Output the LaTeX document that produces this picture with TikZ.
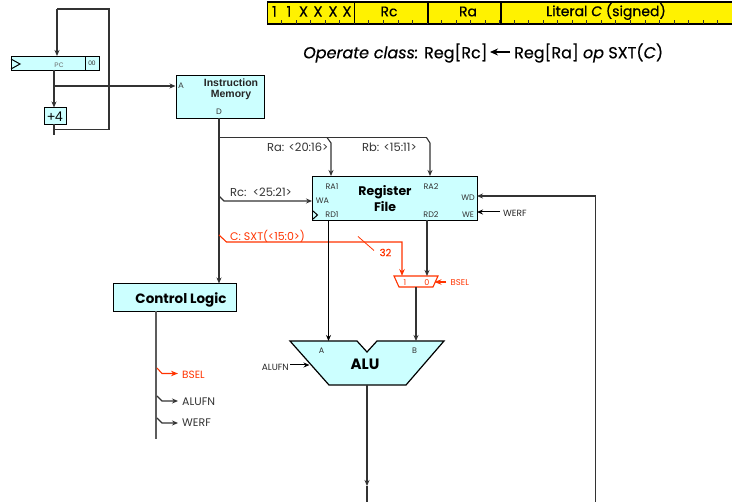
\documentclass[tikz,border=0pt]{standalone}
\usepackage{fontspec}
\setmainfont{Poppins}
\newfontfamily\handfont[FakeBold=0.5]{Poppins}
\newfontfamily\labfont{Liberation Sans}
\usetikzlibrary{arrows.meta,calc}
\definecolor{cy}{HTML}{CCFFFF}
\definecolor{rd}{HTML}{FF3300}
\definecolor{ln}{HTML}{333333}
\tikzset{
 blk/.style={draw=black,fill=cy,line width=1pt,inner sep=0pt,anchor=north west},
 wire/.style={draw=ln,line width=1.1pt},
 arr/.style={wire,-{Stealth[length=6pt,width=5pt]}},
 rwire/.style={draw=rd,line width=1.1pt},
 rarr/.style={rwire,-{Stealth[length=7pt,width=5.5pt]}},
 small/.style={font=\fontsize{8}{9}\selectfont,text=ln,inner sep=0pt},
 lab/.style={font=\fontsize{11}{12}\selectfont,text=ln,inner sep=0pt,anchor=west},
 rlab/.style={font=\fontsize{11}{12}\selectfont,text=rd,inner sep=0pt,anchor=west},
 tit/.style={font=\bfseries\fontsize{12.5}{15.5}\selectfont,inner sep=0pt,align=center},
 hand/.style={font=\handfont\fontsize{14}{15}\selectfont,inner sep=0pt},
}
\begin{document}
\begin{tikzpicture}[x=1pt,y=-1pt]
\useasboundingbox (0,0) rectangle (732,502);
% instruction format
\node[draw=black,fill=yellow,line width=1.1pt,minimum width=470pt,minimum height=22pt,inner sep=0pt,anchor=north west] (ins) at (267,1.5) {};
\foreach \i in {1,...,31}{\draw[ln,line width=0.5pt] ($(267,24)+(\i*14.53,0)$) -- ++(0,-4);}
\foreach \x in {354.5,428,501}{\draw[black,line width=1.1pt] (\x,1.5) -- (\x,23.5);}
\foreach \n/\t/\x in {b1/1/274.5,b2/1/289,b3/X/303.5,b4/X/318,b5/X/333,b6/X/347}
  \node[hand,font=\handfont\fontsize{14.5}{15}\selectfont] (\n) at (\x,11.5) {\t};
\node[hand] (rc) at (389,11.5) {Rc};
\node[hand] (ra) at (468,11.5) {Ra};
\node[hand] (lit) at (606,11.5) {Literal \textit{C} (signed)};
\node[hand,font=\handfont\fontsize{16}{18}\selectfont,anchor=west] (eq1) at (303,53) {\textit{Operate class:} Reg[Rc]};
\node[hand,font=\handfont\fontsize{16}{18}\selectfont,anchor=west] (eq2) at (514,53) {Reg[Ra] \textit{op} SXT(\textit{C})};
\coordinate (eqa) at (510,52);
\coordinate (eqb) at (490,52);
\draw[black,line width=1.6pt,-{Stealth[length=8pt,width=7pt]}] (eqa) -- (eqb);
% PC
\node[blk,minimum width=74.5pt,minimum height=14pt] (pc) at (10.5,56) {};
\node[blk,minimum width=14.5pt,minimum height=14pt] (pc0) at (84.5,56) {};
\node[small,font=\labfont\fontsize{6.5}{7}\selectfont,text=black!60] (pcl) at (59,65) {PC};
\node[small,font=\labfont\fontsize{6.5}{7}\selectfont] (pc00) at (92,63) {00};
\draw[black,line width=1pt] (11,59) -- (20,64) -- (11,69);
\node[blk,minimum width=22pt,minimum height=16.5pt,font=\labfont\fontsize{14}{15}\selectfont] (inc) at (43.5,107.5) {+4};
\coordinate (c1) at (57,9); \coordinate (c2) at (109,9); \coordinate (c3) at (109,129.5); \coordinate (c4) at (54,129.5); \coordinate (c5) at (54,135);
\coordinate (pcb) at (54,70); \coordinate (pcj) at (54,86); \coordinate (inct) at (54,107.5); \coordinate (inb) at (54,124);
\coordinate (pct) at (57,56);
\draw[wire] (inb) -- (c5);
\draw[wire] (c4) -- (c3) -- (c2) -- (c1);
\draw[arr] (c1) -- (pct);
\draw[arr] (pcb) -- (inct);
% IM
\node[blk,minimum width=88pt,minimum height=43.5pt] (im) at (175.5,75) {};
\node[small,font=\labfont\fontsize{8}{9}\selectfont] (ima) at (181,86) {A};
\node[small,font=\labfont\fontsize{8}{9}\selectfont] (imd) at (219,112) {D};
\node[font=\labfont\bfseries\fontsize{10.5}{11.5}\selectfont,align=center,inner sep=0pt,text=black!85] (imt) at (231,89.5) {Instruction\\Memory};
\coordinate (ima0) at (175.5,86);
\draw[arr] (pcj) -- (ima0);
% regfile
\node[blk,minimum width=165pt,minimum height=44pt] (rf) at (312,176) {};
\node[tit] (rft) at (385,198.5) {Register\\File};
\foreach \n/\t/\x/\y in {ra1/RA1/332/187,ra2/RA2/431/187,wa/WA/322.5/201,wd/WD/468/198,we/WE/468/215,rd1/RD1/332/215,rd2/RD2/431/215}
  \node[small] (\n) at (\x,\y) {\t};
\draw[black,line width=1pt] (313,211) -- (317.5,215) -- (313,219);
% control
\node[blk,minimum width=123pt,minimum height=27.5pt] (cl) at (112.5,283.5) {};
\node[font=\bfseries\fontsize{13.5}{15}\selectfont,inner sep=0pt] (clt) at (181,299.5) {Control Logic};
% IM output and branches
\coordinate (imb) at (219,118); \coordinate (clt0) at (219,283.5);
\draw[arr] (imb) -- (clt0);
\coordinate (j1) at (219,137.5); \coordinate (k1) at (327,137.5); \coordinate (k2) at (331,143); \coordinate (ra1t) at (331,176);
\coordinate (k3) at (426.5,137.5); \coordinate (k4) at (430,143); \coordinate (ra2t) at (430,176);
\draw[wire] (j1) -- (k1);
\draw[arr] (k1) -- (k2) -- (ra1t);
\draw[wire] (k1) -- (k3);
\draw[arr] (k3) -- (k4) -- (ra2t);
\node[lab,font=\fontsize{11.5}{12}\selectfont] (lra) at (267,147.5) {Ra: <20:16>};
\node[lab,font=\fontsize{11.5}{12}\selectfont] (lrb) at (362,147.5) {Rb: <15:11>};
\coordinate (j2) at (219,196); \coordinate (k5) at (224,201); \coordinate (wa0) at (312,201);
\draw[arr] (j2) -- (k5) -- (wa0);
\node[lab,font=\fontsize{11.5}{12}\selectfont] (lrc) at (230,192.5) {Rc:\ \ <25:21>};
% red path
\coordinate (j3) at (219,235); \coordinate (k6) at (226.5,242); \coordinate (k7) at (402,242); \coordinate (m1) at (402,276);
\draw[rarr] (j3) -- (k6) -- (k7) -- (m1);
\node[rlab] (lsx) at (230,236.5) {C: SXT(<15:0>)};
\coordinate (t1) at (358,236.5); \coordinate (t2) at (374,250.5);
\draw[rwire,line width=0.8pt] (t1) -- (t2);
\node[hand,font=\handfont\fontsize{10}{11}\selectfont,text=rd] (l32) at (385.5,252.5) {32};
% mux
\path[draw=rd,fill=white,line width=1.1pt] (394,276) -- (438,276) -- (433,287) -- (399,287) -- cycle;
\coordinate (m0) at (427,276); \coordinate (mb) at (416,287); \coordinate (ms) at (434.5,282); \coordinate (ms0) at (446,282);
\node[small,text=rd] (m1l) at (405,282.5) {1};
\node[small,text=rd] (m0l) at (427,282.5) {0};
\draw[rarr] (ms0) -- (ms);
\node[rlab,font=\fontsize{8.5}{9}\selectfont] (mbs) at (450.5,282.5) {BSEL};
\coordinate (rd2b) at (427,220);
\draw[arr] (rd2b) -- (m0);
% ALU
\path[draw=black,fill=cy,line width=1.2pt] (290,341) -- (357,341) -- (367,352) -- (377,341) -- (444,341) -- (406,385) -- (329,385) -- cycle;
\node[tit,font=\bfseries\fontsize{15}{16}\selectfont] (alut) at (365,364) {ALU};
\node[small] (alua) at (321.5,351) {A};
\node[small] (alub) at (414.5,351) {B};
\coordinate (a0) at (328.5,341); \coordinate (b0) at (416,341);
\coordinate (rd1b) at (328.5,220);
\draw[black,line width=1.1pt,-{Stealth[length=6pt,width=5pt]}] (rd1b) -- (a0);
\draw[arr] (mb) -- (b0);
\coordinate (af0) at (290,365); \coordinate (af1) at (309.5,365);
\node[small,font=\fontsize{9}{10}\selectfont,text=black!85,anchor=east] (alf) at (289,367) {ALUFN};
\draw[black,line width=1pt,-{Stealth[length=6pt,width=5pt]}] (af0) -- (af1);
\coordinate (alo) at (367,385); \coordinate (alo1) at (367,486); \coordinate (alo2) at (367,502);
\draw[arr] (alo) -- (alo1);
\draw[wire] (alo1) -- (alo2);
% WD feedback
\coordinate (w0) at (595.5,502); \coordinate (w1) at (595.5,196); \coordinate (w2) at (477,196);
\draw[arr] (w0) -- (w1) -- (w2);
\coordinate (w3) at (500,212); \coordinate (w4) at (477,212);
\draw[black,line width=1pt,-{Stealth[length=6pt,width=5pt]}] (w3) -- (w4);
\node[small,font=\fontsize{9}{10}\selectfont,text=black!85,anchor=west] (wrf) at (503,213.5) {WERF};
% control outputs
\coordinate (cb) at (156,311); \coordinate (cb1) at (156,439);
\draw[draw=ln!80,line width=1.4pt] (cb) -- (cb1);
\coordinate (s1) at (157,368); \coordinate (s2) at (162,373.5); \coordinate (s3) at (178,373.5);
\draw[rarr] (s1) -- (s2) -- (s3);
\node[rlab,font=\fontsize{10.5}{11}\selectfont] (cbs) at (182,374.5) {BSEL};
\coordinate (s4) at (157,396); \coordinate (s5) at (162,401); \coordinate (s6) at (178,401);
\draw[arr] (s4) -- (s5) -- (s6);
\node[lab] (caf) at (182,401.5) {ALUFN};
\coordinate (s7) at (157,418); \coordinate (s8) at (162,423); \coordinate (s9) at (178,423);
\draw[arr] (s7) -- (s8) -- (s9);
\node[lab] (cwf) at (182,422.5) {WERF};
\end{tikzpicture}
\end{document}
